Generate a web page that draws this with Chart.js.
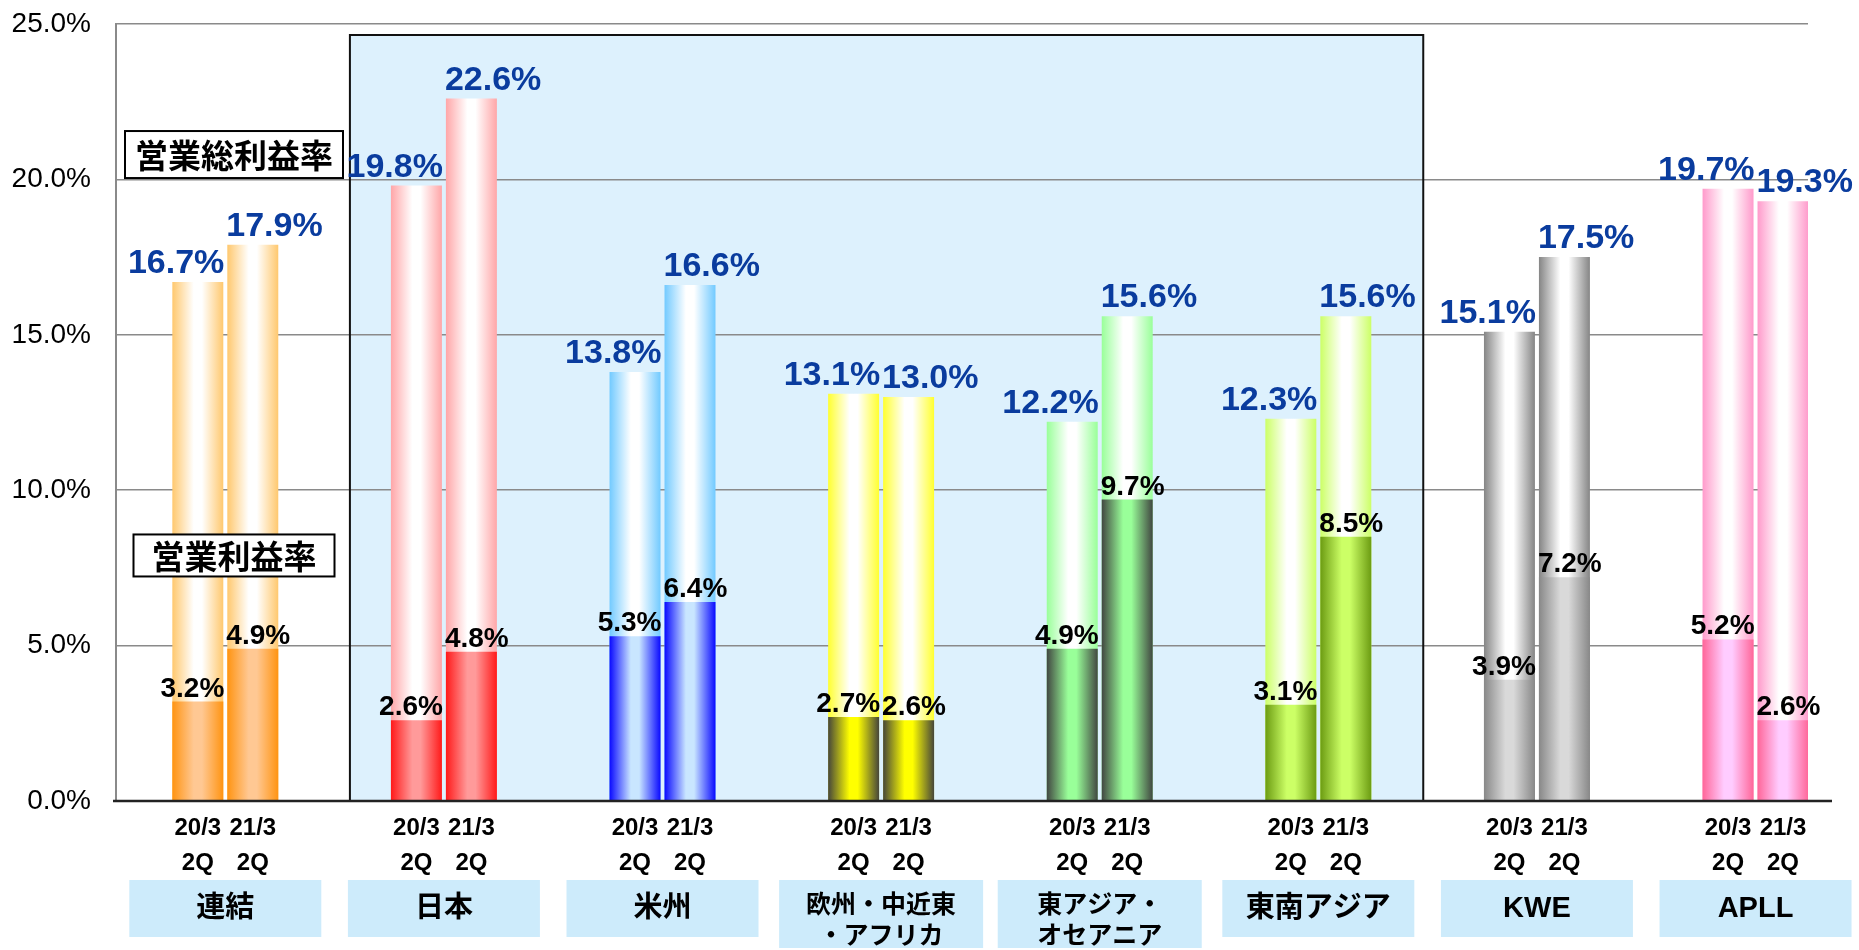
<!DOCTYPE html>
<html lang="ja">
<head>
<meta charset="utf-8">
<title>営業総利益率・営業利益率</title>
<script src="https://cdn.jsdelivr.net/npm/chart.js@4.4.1/dist/chart.umd.min.js"></script>
<style>
  html, body { margin: 0; padding: 0; background: #fff; overflow: hidden; }
  #cadre { position: relative; width: 1859px; height: 950px; }
</style>
</head>
<body>
<div id="cadre"><canvas id="margeChart"></canvas></div>
<script>
// Données
const regions = ["連結", "日本", "米州", ["欧州・中近東", "・アフリカ"], ["東アジア・", "オセアニア"], "東南アジア", "KWE", "APLL"];
const periodes = [["20/3", "2Q"], ["21/3", "2Q"]];

// 営業総利益率 (%)
const brutPrec = [16.7, 19.8, 13.8, 13.1, 12.2, 12.3, 15.1, 19.7];
const brutCour = [17.9, 22.6, 16.6, 13.0, 15.6, 15.6, 17.5, 19.3];
// 営業利益率 (%)
const opPrec = [3.2, 2.6, 5.3, 2.7, 4.9, 3.1, 3.9, 5.2];
const opCour = [4.9, 4.8, 6.4, 2.6, 9.7, 8.5, 7.2, 2.6];

const yTicks = [0, 5, 10, 15, 20, 25];

// Couleurs : [bord clair, bord foncé, centre foncé]
const couleurs = [
  ["#ffc86e", "#ff9412", "#ffc893"],
  ["#ffa6a8", "#ff1a1a", "#ff9a9a"],
  ["#72caff", "#0a0aff", "#c9e6ff"],
  ["#ffff30", "#46463a", "#ffff00"],
  ["#99ff99", "#414741", "#99ff99"],
  ["#ccff66", "#6c9c12", "#ccff66"],
  ["#858585", "#888888", "#d9d9d9"],
  ["#ff9acb", "#ff6699", "#ffccff"],
];

const CAT_PCT = 0.503;
const BAR_PCT = 0.927;
const X_MIN = -0.5;
const X_MAX = 7.24;

const POLICE = '"Liberation Sans", Arial, "Noto Sans CJK JP", sans-serif';
const JP = '"Noto Sans CJK JP", "Liberation Sans", sans-serif';

// Dégradé horizontal d'une barre
function degrade(ctx, clair) {
  const chart = ctx.chart;
  const x = chart.scales.x;
  const c = couleurs[ctx.dataIndex] || couleurs[0];
  if (ctx.type !== "data" || !chart.chartArea || !x) return clair ? c[0] : c[1];
  const pas = x.getPixelForValue(1) - x.getPixelForValue(0);
  const slot = (pas * CAT_PCT) / 2;
  const centre = x.getPixelForValue(ctx.dataIndex) + (ctx.dataset.stack === "p0" ? -slot / 2 : slot / 2);
  const demi = (slot * BAR_PCT) / 2;
  const g = chart.ctx.createLinearGradient(centre - demi, 0, centre + demi, 0);
  if (clair) {
    g.addColorStop(0, c[0]);
    g.addColorStop(0.42, "#ffffff");
    g.addColorStop(0.58, "#ffffff");
    g.addColorStop(1, c[0]);
  } else {
    g.addColorStop(0, c[1]);
    g.addColorStop(0.42, c[2]);
    g.addColorStop(0.58, c[2]);
    g.addColorStop(1, c[1]);
  }
  return g;
}

const points = (arr) => arr.map((v, i) => ({ x: i, y: v }));

// Fond + cadre bleu (日本〜東南アジア)
const cadreBleu = {
  id: "cadreBleu",
  beforeDraw(chart) {
    const c = chart.ctx;
    const x = chart.scales.x, y = chart.scales.y;
    c.save();
    c.fillStyle = "#ffffff";
    c.fillRect(0, 0, chart.width, chart.height);
    c.fillStyle = "#ddf1fd";
    const l = x.getPixelForValue(0.57), r = x.getPixelForValue(5.48);
    const t = y.getPixelForValue(24.65), b = y.getPixelForValue(0);
    c.fillRect(l, t, r - l, b - t);
    c.restore();
  },
  beforeDatasetsDraw(chart) {
    const c = chart.ctx;
    const x = chart.scales.x, y = chart.scales.y;
    const l = x.getPixelForValue(0.57), r = x.getPixelForValue(5.48);
    const t = y.getPixelForValue(24.65), b = y.getPixelForValue(0);
    c.save();
    c.strokeStyle = "#111";
    c.lineWidth = 2;
    c.beginPath();
    c.moveTo(l, b);
    c.lineTo(l, t);
    c.lineTo(r, t);
    c.lineTo(r, b);
    c.stroke();
    c.restore();
  },
};

function boite(c, texte, cx, cy, w, h, font) {
  c.fillStyle = "#ffffff";
  c.fillRect(cx - w / 2, cy - h / 2, w, h);
  c.strokeStyle = "#000";
  c.lineWidth = 2;
  c.strokeRect(cx - w / 2, cy - h / 2, w, h);
  c.fillStyle = "#000";
  c.font = font;
  c.textAlign = "center";
  c.textBaseline = "middle";
  c.fillText(texte, cx, cy + 1);
}

// Étiquettes de valeurs, ligne de base, légendes
const etiquettes = {
  id: "etiquettes",
  afterDatasetsDraw(chart) {
    const c = chart.ctx;
    const y = chart.scales.y;
    const area = chart.chartArea;
    const metas = chart.data.datasets.map((ds, di) => chart.getDatasetMeta(di));
    const barre = (genre, stack, i) => {
      const di = chart.data.datasets.findIndex((d) => d.genre === genre && d.stack === stack);
      return metas[di].data[i];
    };

    c.save();
    // ligne de base
    c.strokeStyle = "#222";
    c.lineWidth = 2.5;
    c.beginPath();
    c.moveTo(area.left - 3, y.getPixelForValue(0));
    c.lineTo(area.right + 24, y.getPixelForValue(0));
    c.stroke();

    c.textBaseline = "alphabetic";
    regions.forEach((r, i) => {
      // 営業総利益率
      const b0 = barre("brut", "p0", i), b1 = barre("brut", "p1", i);
      c.font = "bold 34px " + POLICE;
      c.fillStyle = "#0a3c9e";
      const t0 = brutPrec[i].toFixed(1) + "%";
      const t1 = brutCour[i].toFixed(1) + "%";
      const d0 = b0.x + b0.width / 2 + 1;
      let g1 = b1.x - b1.width / 2 - 8;
      if (g1 < d0 + 2) g1 = d0 + 2;
      c.textAlign = "right";
      c.fillText(t0, d0, b0.y - 9);
      c.textAlign = "left";
      c.fillText(t1, g1, b1.y - 9);

      // 営業利益率
      const o0 = barre("op", "p0", i), o1 = barre("op", "p1", i);
      c.font = "bold 28px " + POLICE;
      c.fillStyle = "#000";
      c.textAlign = "right";
      c.fillText(opPrec[i].toFixed(1) + "%", o0.x + o0.width / 2 + 1, o0.y - 5);
      c.textAlign = "left";
      c.fillText(opCour[i].toFixed(1) + "%", o1.x - o1.width / 2 - 1, o1.y - 5);
    });

    // légendes encadrées
    boite(c, "営業総利益率", area.left + 118, y.getPixelForValue(20.8), 218, 47, "bold 33px " + JP);
    boite(c, "営業利益率", area.left + 118, y.getPixelForValue(7.9), 201, 42, "bold 33px " + JP);
    c.restore();
  },
  afterDraw(chart) {
    const c = chart.ctx;
    const x = chart.scales.x;
    c.save();
    regions.forEach((r, i) => {
      const cx = x.getPixelForValue(i);
      const lignes = Array.isArray(r) ? r : [r];
      const w = lignes.length > 1 ? 204 : 192;
      const h = lignes.length > 1 ? 68 : 57;
      c.fillStyle = "#cdebfb";
      c.fillRect(cx - w / 2, 880, w, h);
      c.fillStyle = "#000";
      c.textAlign = "center";
      c.textBaseline = "middle";
      if (lignes.length > 1) {
        c.font = "bold 25px " + JP;
        c.fillText(lignes[0], cx, 903);
        c.fillText(lignes[1], cx, 934);
      } else {
        c.font = "bold 29px " + POLICE;
        c.fillText(lignes[0], cx, 909);
      }
    });
    c.restore();
  },
};

const ctx = document.getElementById("margeChart");

new Chart(ctx, {
  type: "bar",
  data: {
    datasets: [
      { genre: "op", stack: "p0", data: points(opPrec), backgroundColor: (c) => degrade(c, false) },
      { genre: "op", stack: "p1", data: points(opCour), backgroundColor: (c) => degrade(c, false) },
      { genre: "brut", stack: "p0", data: points(brutPrec), backgroundColor: (c) => degrade(c, true) },
      { genre: "brut", stack: "p1", data: points(brutCour), backgroundColor: (c) => degrade(c, true) },
    ],
  },
  options: {
    responsive: true,
    maintainAspectRatio: false,
    animation: false,
    events: [],
    categoryPercentage: CAT_PCT,
    barPercentage: BAR_PCT,
    borderWidth: 0,
    layout: { padding: { top: 24, right: 51, bottom: 0, left: 0 } },
    plugins: {
      legend: { display: false },
      tooltip: { enabled: false },
    },
    scales: {
      x: {
        type: "linear",
        display: false,
        offset: false,
        grid: { offset: false },
        stacked: true,
        min: X_MIN,
        max: X_MAX,
        afterBuildTicks: (s) => {
          s.ticks = regions.map((r, i) => ({ value: i }));
        },
      },
      x2: {
        type: "linear",
        position: "bottom",
        offset: false,
        min: X_MIN,
        max: X_MAX,
        grid: { display: false, drawTicks: false, offset: false },
        border: { display: false },
        afterBuildTicks: (s) => {
          const t = [];
          regions.forEach((r, i) => {
            t.push({ value: i - CAT_PCT / 4 });
            t.push({ value: i + CAT_PCT / 4 });
          });
          s.ticks = t;
        },
        afterFit: (s) => {
          s.height = 149;
        },
        ticks: {
          autoSkip: false,
          maxRotation: 0,
          padding: 10,
          color: "#000",
          font: { family: POLICE, size: 24, weight: "bold", lineHeight: 1.45 },
          callback: (v, i) => periodes[i % 2],
        },
      },
      y: {
        min: 0,
        max: 25,
        stacked: false,
        afterBuildTicks: (s) => {
          s.ticks = yTicks.map((v) => ({ value: v }));
        },
        afterFit: (s) => {
          s.width = 116;
          s.paddingTop = 0;
          s.paddingBottom = 0;
        },
        grid: { color: "#8a8a8a", lineWidth: 1.5, drawTicks: false },
        border: { color: "#8a8a8a", width: 2 },
        ticks: {
          padding: 25,
          color: "#000",
          font: { family: POLICE, size: 28 },
          callback: (v) => v.toFixed(1) + "%",
        },
      },
    },
  },
  plugins: [cadreBleu, etiquettes],
});
</script>
</body>
</html>
